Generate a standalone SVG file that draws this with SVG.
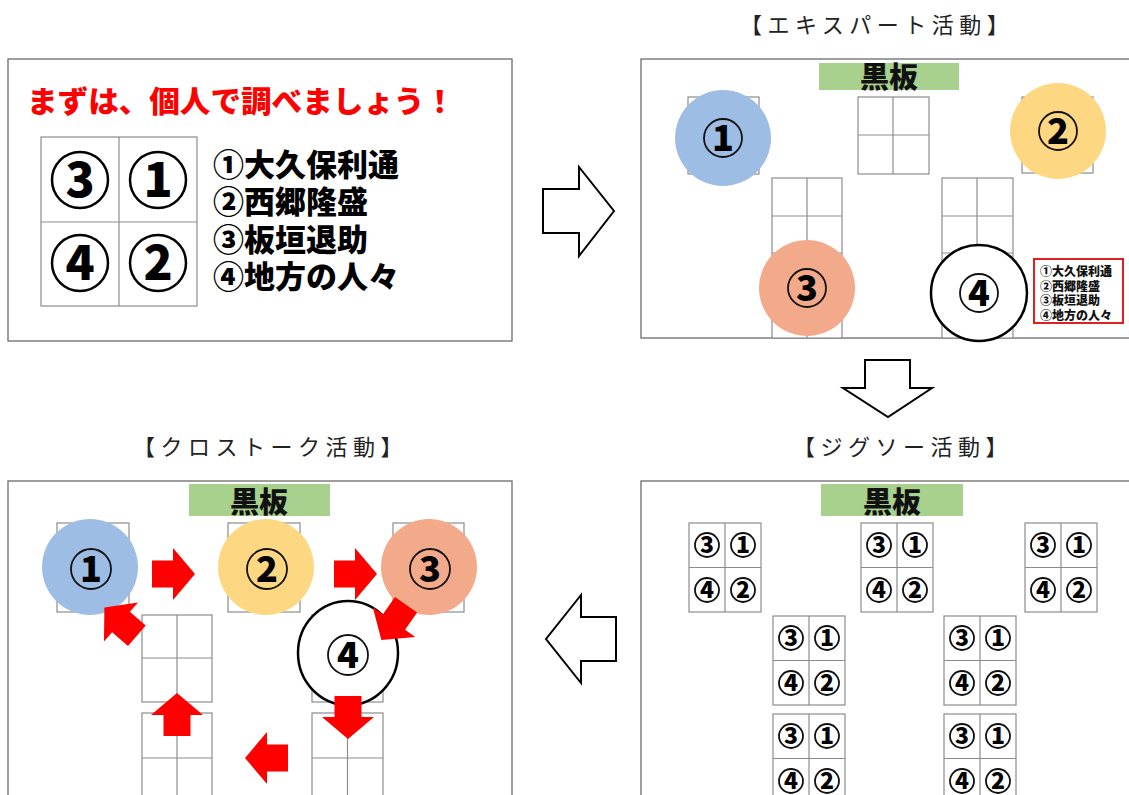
<svg xmlns="http://www.w3.org/2000/svg" width="1129" height="795" viewBox="0 0 1129 795">
<style>
.bg{fill:#fff}
.pn{fill:#fff;stroke:#6b6b6b;stroke-width:1.3}
.dk{fill:#fff;stroke:#8c8c8c;stroke-width:1.2}
.dl{stroke:#8c8c8c;stroke-width:1.2;fill:none}
.bb{fill:#a9d18e}
.bbt{font-family:"Noto Sans CJK JP",sans-serif;font-weight:900;font-size:29px;text-anchor:middle;fill:#111}
.ttl{font-family:"Noto Sans CJK JP",sans-serif;font-weight:400;font-size:22px;letter-spacing:5.5px;fill:#222}
.cn{fill:none;stroke:#111;stroke-width:1.8}
.dg{font-family:"Noto Sans CJK JP",sans-serif;font-weight:900;text-anchor:middle;fill:#000}
.big{fill:none;stroke:#000;stroke-width:2.5}
.lst{font-family:"Noto Sans CJK JP",sans-serif;font-weight:900;font-size:31px;fill:#000}
.lg{font-family:"Noto Sans CJK JP",sans-serif;font-weight:900;font-size:12px;fill:#111}
.ha{fill:#fff;stroke:#000;stroke-width:2;stroke-linejoin:miter}
.ra{fill:#f00}
.c1{fill:#9dbde5}
.c2{fill:#fed782}
.c3{fill:#f3aa8b}
.c4{fill:#fff;stroke:#000;stroke-width:2.5}
</style>
<defs>
<polygon id="redArrow" points="-21,-13.5 0,-13.5 0,-26 22,0 0,26 0,13.5 -21,13.5"/>
<g id="desk4">
<rect class="dk" x="0" y="0" width="72" height="89"/>
<line class="dl" x1="36" y1="0" x2="36" y2="89"/>
<line class="dl" x1="0" y1="44.5" x2="72" y2="44.5"/>
<circle class="cn" cx="18" cy="22" r="12" stroke-width="1.3"/>
<circle class="cn" cx="54" cy="22" r="12" stroke-width="1.3"/>
<circle class="cn" cx="18" cy="67" r="12" stroke-width="1.3"/>
<circle class="cn" cx="54" cy="67" r="12" stroke-width="1.3"/>
<text class="dg" x="18" y="30" font-size="23">3</text>
<text class="dg" x="54" y="30" font-size="23">1</text>
<text class="dg" x="18" y="75" font-size="23">4</text>
<text class="dg" x="54" y="75" font-size="23">2</text>
</g>
</defs>
<rect class="bg" x="0" y="0" width="1129" height="795"/>

<!-- Panel 1: individual -->
<g id="panel-individual">
<rect class="pn" x="8" y="59" width="504" height="282"/>
<text x="27" y="112" font-family="Noto Sans CJK JP, sans-serif" font-weight="900" font-size="30" fill="#ff0000" textLength="428" lengthAdjust="spacingAndGlyphs">まずは、個人で調べましょう！</text>
<g id="individual-desk">
<rect class="dk" x="41" y="137" width="156" height="169"/>
<line class="dl" x1="119" y1="137" x2="119" y2="306"/>
<line class="dl" x1="41" y1="222" x2="197" y2="222"/>
<circle class="big" cx="80" cy="180" r="28"/>
<circle class="big" cx="158" cy="180" r="28"/>
<circle class="big" cx="80" cy="263" r="28"/>
<circle class="big" cx="158" cy="263" r="28"/>
<text class="dg" x="80" y="197" font-size="48">3</text>
<text class="dg" x="158" y="197" font-size="48">1</text>
<text class="dg" x="80" y="280" font-size="48">4</text>
<text class="dg" x="158" y="280" font-size="48">2</text>
</g>
<text class="lst" x="213" y="176">①大久保利通</text>
<text class="lst" x="213" y="213">②西郷隆盛</text>
<text class="lst" x="213" y="251">③板垣退助</text>
<text class="lst" x="213" y="288">④地方の人々</text>
</g>

<!-- Panel 2: expert -->
<g id="panel-expert">
<text class="ttl" x="740" y="33">【エキスパート活動】</text>
<rect class="pn" x="641" y="59" width="489" height="279"/>
<rect class="bb" x="819" y="63" width="140" height="27"/>
<text class="bbt" x="889" y="88">黒板</text>
<g id="expert-desks">
<rect class="dk" x="858" y="97" width="71" height="77"/>
<line class="dl" x1="893" y1="97" x2="893" y2="174"/>
<line class="dl" x1="858" y1="135" x2="929" y2="135"/>
<rect class="dk" x="688" y="97" width="71" height="77"/>
<rect class="dk" x="1022" y="97" width="71" height="76"/>
<rect class="dk" x="772" y="178" width="70" height="160"/>
<line class="dl" x1="807" y1="178" x2="807" y2="338"/>
<line class="dl" x1="772" y1="216" x2="842" y2="216"/>
<line class="dl" x1="772" y1="253" x2="842" y2="253"/>
<line class="dl" x1="772" y1="291" x2="842" y2="291"/>
<rect class="dk" x="942" y="178" width="71" height="160"/>
<line class="dl" x1="977" y1="178" x2="977" y2="338"/>
<line class="dl" x1="942" y1="216" x2="1013" y2="216"/>
<line class="dl" x1="942" y1="253" x2="1013" y2="253"/>
<line class="dl" x1="942" y1="291" x2="1013" y2="291"/>
</g>
<g id="expert-1"><circle class="c1" cx="723" cy="138" r="48"/><circle class="cn" cx="723" cy="138" r="19"/><text class="dg" x="723" y="151" font-size="36">1</text></g>
<g id="expert-2"><circle class="c2" cx="1058" cy="131" r="48"/><circle class="cn" cx="1058" cy="131" r="19"/><text class="dg" x="1058" y="144" font-size="36">2</text></g>
<g id="expert-3"><circle class="c3" cx="807" cy="288" r="48"/><circle class="cn" cx="807" cy="288" r="19"/><text class="dg" x="807" y="301" font-size="36">3</text></g>
<g id="expert-4"><circle class="c4" cx="979" cy="293" r="48"/><circle class="cn" cx="979" cy="293" r="19"/><text class="dg" x="979" y="306" font-size="36">4</text></g>
<g id="expert-legend">
<rect x="1034" y="259" width="89" height="64" fill="#fff" stroke="#e0201f" stroke-width="2"/>
<text class="lg" x="1040" y="276">①大久保利通</text>
<text class="lg" x="1040" y="290.5">②西郷隆盛</text>
<text class="lg" x="1040" y="305">③板垣退助</text>
<text class="lg" x="1040" y="319.5">④地方の人々</text>
</g>
</g>

<!-- Panel 3: jigsaw -->
<g id="panel-jigsaw">
<text class="ttl" x="793" y="455">【ジグソー活動】</text>
<rect class="pn" x="641" y="481" width="489" height="330"/>
<rect class="bb" x="821" y="484" width="142" height="32"/>
<text class="bbt" x="892" y="513">黒板</text>
<g id="jigsaw-a"><use href="#desk4" x="689" y="523"/></g>
<g id="jigsaw-b"><use href="#desk4" x="861" y="523"/></g>
<g id="jigsaw-c"><use href="#desk4" x="1025" y="523"/></g>
<g id="jigsaw-d"><use href="#desk4" x="773" y="616"/></g>
<g id="jigsaw-e"><use href="#desk4" x="944" y="616"/></g>
<g id="jigsaw-f"><use href="#desk4" x="773" y="714"/></g>
<g id="jigsaw-g"><use href="#desk4" x="944" y="714"/></g>
</g>

<!-- Panel 4: cross talk -->
<g id="panel-crosstalk">
<text class="ttl" x="133" y="455">【クロストーク活動】</text>
<rect class="pn" x="8" y="481" width="504" height="330"/>
<rect class="bb" x="189" y="484" width="141" height="32"/>
<text class="bbt" x="259" y="513">黒板</text>
<g id="crosstalk-desks">
<rect class="dk" x="57" y="523" width="72" height="89"/>
<rect class="dk" x="228" y="523" width="72" height="89"/>
<rect class="dk" x="393" y="523" width="71" height="89"/>
<rect class="dk" x="142" y="615" width="70" height="87"/>
<line class="dl" x1="177" y1="615" x2="177" y2="702"/>
<line class="dl" x1="142" y1="658" x2="212" y2="658"/>
<rect class="dk" x="142" y="713" width="70" height="90"/>
<line class="dl" x1="177" y1="713" x2="177" y2="803"/>
<line class="dl" x1="142" y1="758" x2="212" y2="758"/>
<rect class="dk" x="312" y="615" width="71" height="87"/>
<line class="dl" x1="347.5" y1="615" x2="347.5" y2="702"/>
<rect class="dk" x="312" y="713" width="71" height="90"/>
<line class="dl" x1="347.5" y1="713" x2="347.5" y2="803"/>
<line class="dl" x1="312" y1="758" x2="383" y2="758"/>
</g>
<g id="crosstalk-1"><circle class="c1" cx="90" cy="567" r="48"/><circle class="cn" cx="91" cy="569" r="20"/><text class="dg" x="91" y="582" font-size="36">1</text></g>
<g id="crosstalk-2"><circle class="c2" cx="266" cy="567" r="48"/><circle class="cn" cx="267" cy="569" r="20"/><text class="dg" x="267" y="582" font-size="36">2</text></g>
<g id="crosstalk-3"><circle class="c3" cx="429" cy="567" r="48"/><circle class="cn" cx="430" cy="569" r="20"/><text class="dg" x="430" y="582" font-size="36">3</text></g>
<g id="crosstalk-4"><ellipse class="c4" cx="348" cy="653" rx="50" ry="52"/><circle class="cn" cx="348" cy="655" r="20"/><text class="dg" x="348" y="668" font-size="36">4</text></g>
<g id="crosstalk-arrows" class="ra">
<use href="#redArrow" transform="translate(173,574)"/>
<use href="#redArrow" transform="translate(355,574)"/>
<use href="#redArrow" transform="translate(394,622) rotate(125)"/>
<use href="#redArrow" transform="translate(348,717) rotate(90)"/>
<use href="#redArrow" transform="translate(267,758) rotate(180)"/>
<use href="#redArrow" transform="translate(177,715) rotate(-90)"/>
<use href="#redArrow" transform="translate(121,622) rotate(-139)"/>
</g>
</g>

<!-- Connectors between panels -->
<g id="connectors">
<polygon class="ha" points="543,189 579,189 579,167 614,211 579,256 579,233 543,233"/>
<polygon class="ha" points="865,360 910,360 910,388 932,388 888,417 843,388 865,388"/>
<polygon class="ha" points="616,617 581,617 581,595 546,639 581,683 581,661 616,661"/>
</g>
</svg>
